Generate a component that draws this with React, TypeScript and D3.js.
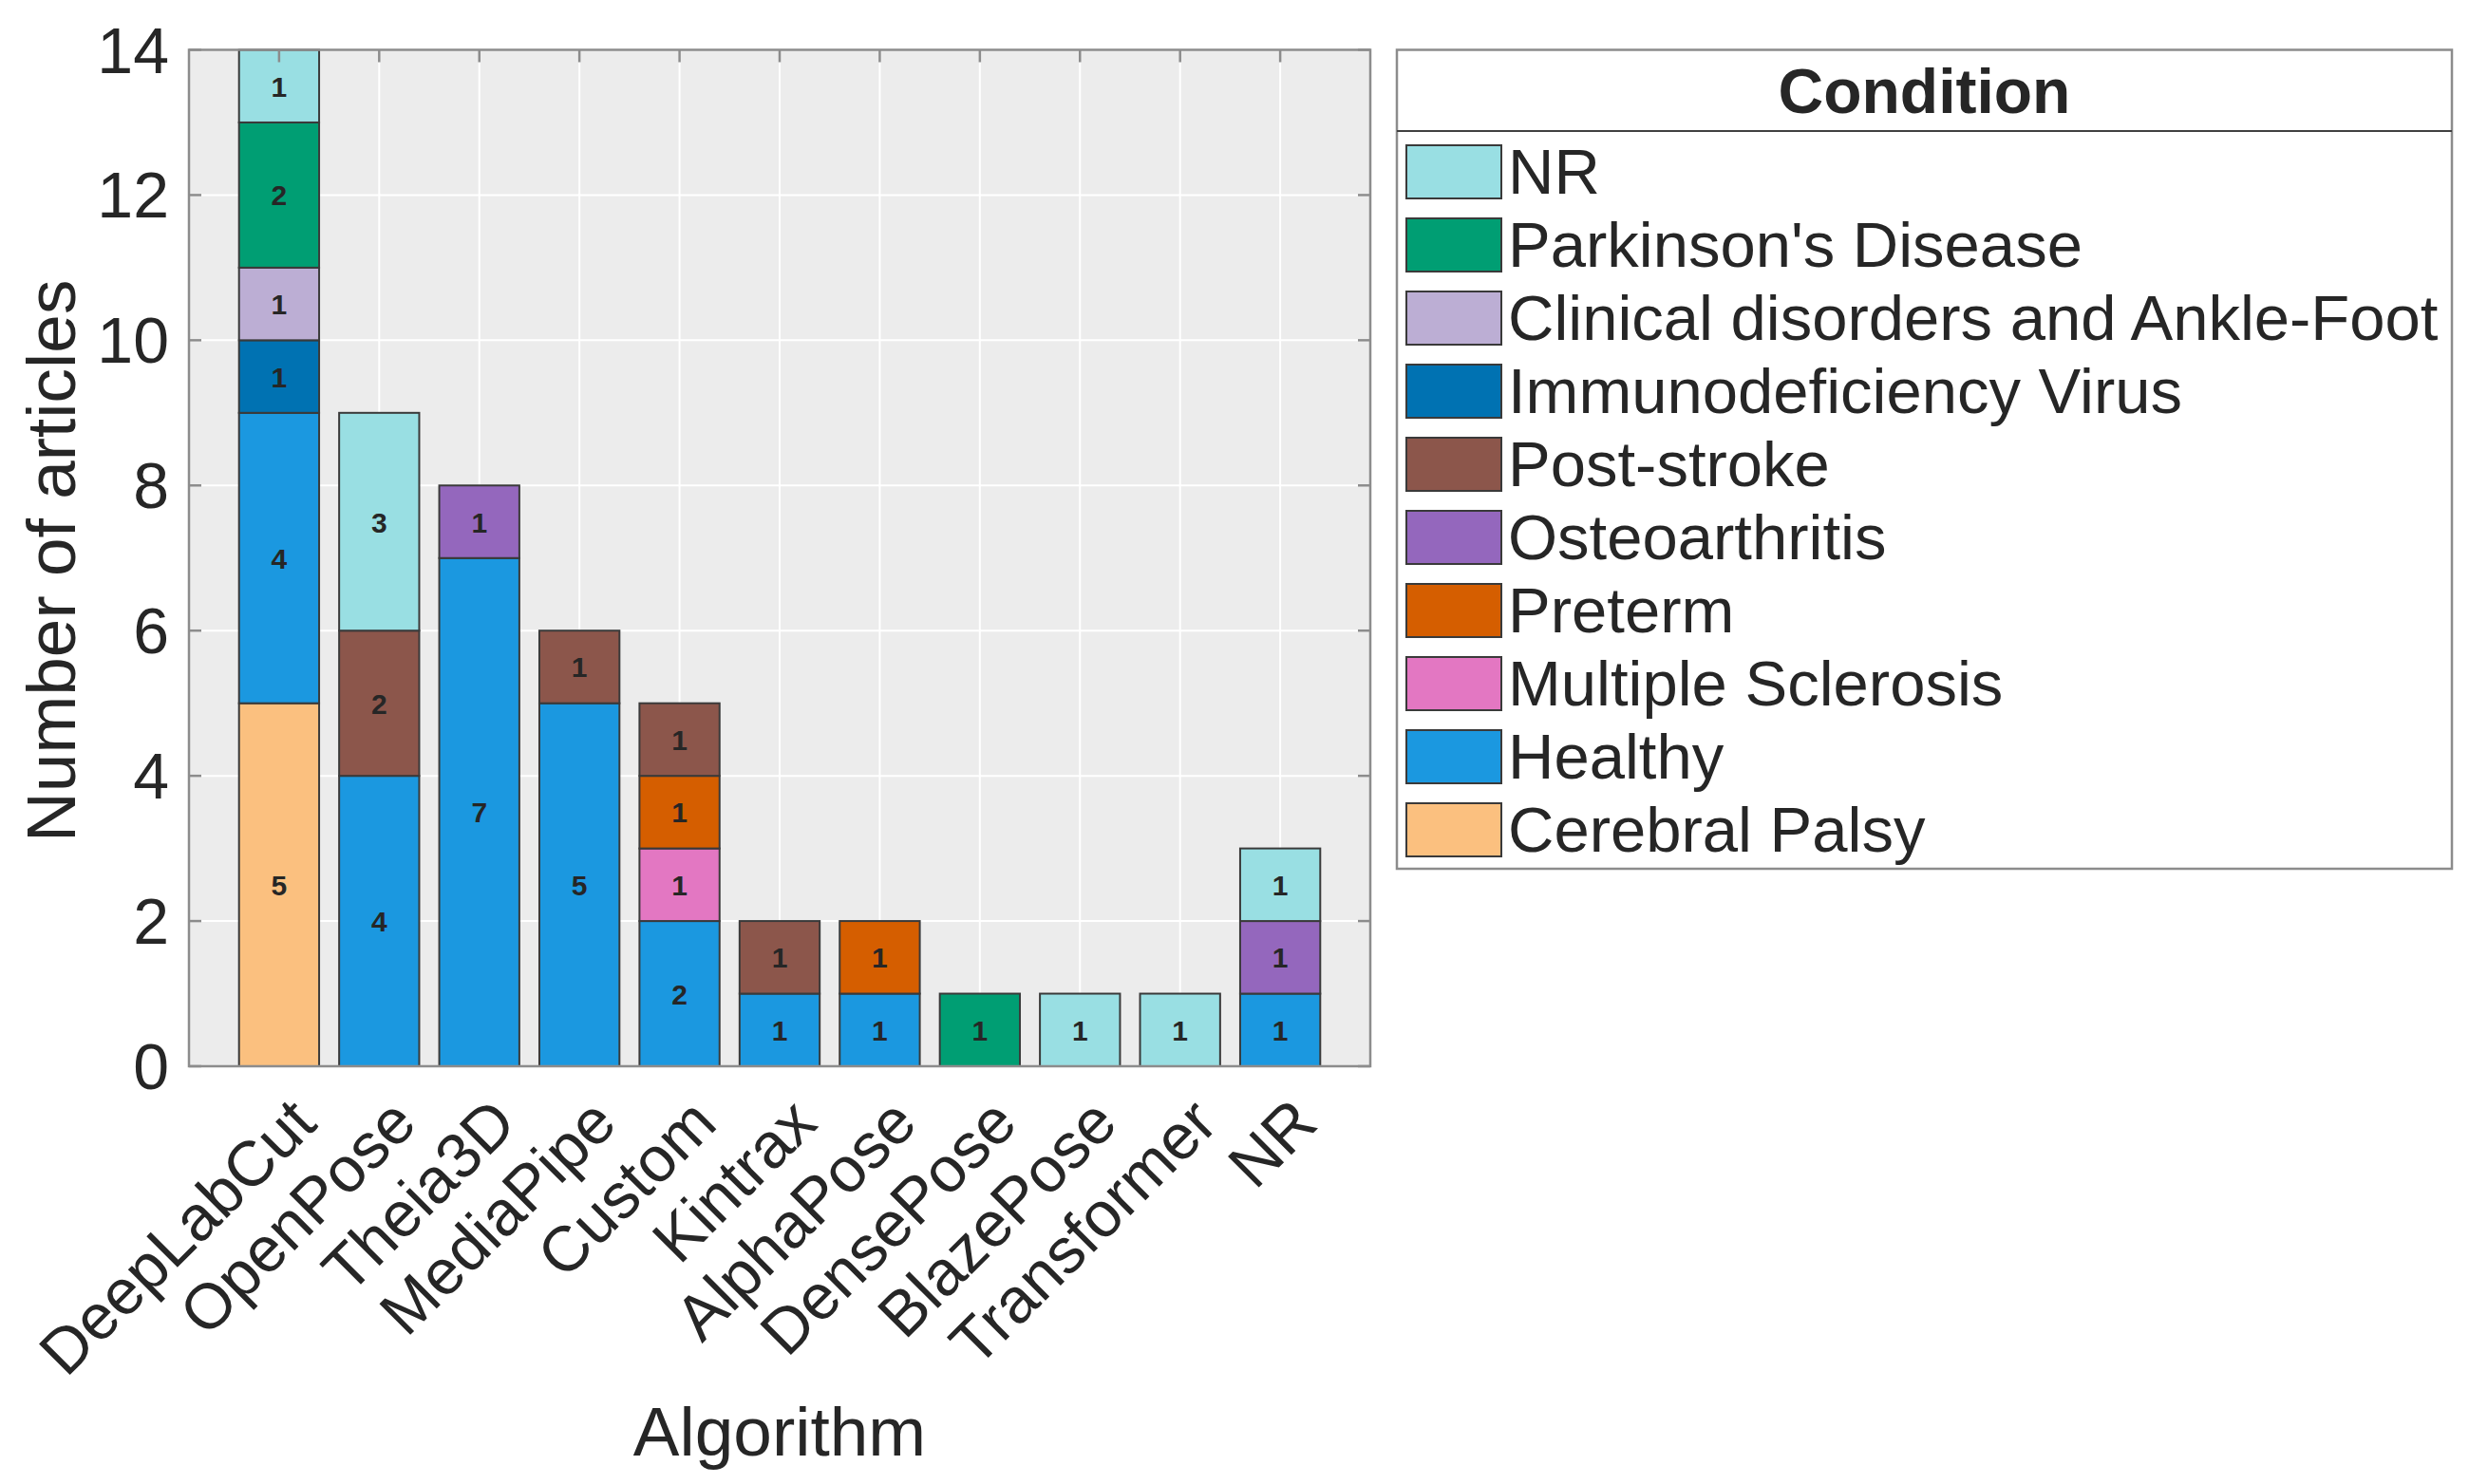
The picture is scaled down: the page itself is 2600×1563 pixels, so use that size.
import React from "react";
import { scaleBand, scaleLinear, stack, range } from "d3";

// algorithms on the x axis
const algorithms = [
  "DeepLabCut",
  "OpenPose",
  "Theia3D",
  "MediaPipe",
  "Custom",
  "Kintrax",
  "AlphaPose",
  "DensePose",
  "BlazePose",
  "Transformer",
  "NR",
];

// conditions, stack order bottom -> top
const conditions = [
  "Cerebral Palsy",
  "Healthy",
  "Multiple Sclerosis",
  "Preterm",
  "Osteoarthritis",
  "Post-stroke",
  "Immunodeficiency Virus",
  "Clinical disorders and Ankle-Foot",
  "Parkinson's Disease",
  "NR",
];

// counts per condition, one value per algorithm
const cerebralPalsy = [5, 0, 0, 0, 0, 0, 0, 0, 0, 0, 0];
const healthy = [4, 4, 7, 5, 2, 1, 1, 0, 0, 0, 1];
const multipleSclerosis = [0, 0, 0, 0, 1, 0, 0, 0, 0, 0, 0];
const preterm = [0, 0, 0, 0, 1, 0, 1, 0, 0, 0, 0];
const osteoarthritis = [0, 0, 1, 0, 0, 0, 0, 0, 0, 0, 1];
const postStroke = [0, 2, 0, 1, 1, 1, 0, 0, 0, 0, 0];
const immunodeficiency = [1, 0, 0, 0, 0, 0, 0, 0, 0, 0, 0];
const clinicalAnkleFoot = [1, 0, 0, 0, 0, 0, 0, 0, 0, 0, 0];
const parkinsons = [2, 0, 0, 0, 0, 0, 0, 1, 0, 0, 0];
const notReported = [1, 3, 0, 0, 0, 0, 0, 0, 1, 1, 1];

const seriesValues = [
  cerebralPalsy,
  healthy,
  multipleSclerosis,
  preterm,
  osteoarthritis,
  postStroke,
  immunodeficiency,
  clinicalAnkleFoot,
  parkinsons,
  notReported,
];

const colors = [
  "#FBC07F",
  "#1B98E0",
  "#E377C2",
  "#D55E00",
  "#9467BD",
  "#8C564B",
  "#0072B2",
  "#BCAED4",
  "#009E73",
  "#99DFE3",
];

const yTicks = [0, 2, 4, 6, 8, 10, 12, 14];

const FONT = "'Liberation Sans', Arial, Helvetica, sans-serif";
const TEXT = "#262626";

// layout
const LEFT = 199;
const RIGHT = 1443;
const TOP = 52.5;
const BOTTOM = 1123;

const App = () => {
  const rows = algorithms.map((name, i) => {
    const row: any = { name };
    conditions.forEach((c, k) => (row[c] = seriesValues[k][i]));
    return row;
  });
  const stacked = stack().keys(conditions)(rows);

  const xScale = scaleBand()
    .domain(algorithms)
    .range([LEFT, RIGHT])
    .paddingInner(0.2)
    .paddingOuter(0.5);
  const yScale = scaleLinear().domain([0, 14]).range([BOTTOM, TOP]);
  const bw = xScale.bandwidth();
  const cx = (a: string) => (xScale(a) ?? 0) + bw / 2;

  // legend
  const LX0 = 1471;
  const LX1 = 2582;
  const LY0 = 52.5;
  const LSEP = 138;
  const LY1 = 915;
  const legendOrder = range(conditions.length - 1, -1, -1);

  return (
    <svg
      width={2600}
      height={1563}
      style={{ position: "absolute", left: 0, top: 0, background: "#fff" }}
      fontFamily={FONT}
    >
      {/* plot background */}
      <rect x={LEFT} y={TOP} width={RIGHT - LEFT} height={BOTTOM - TOP} fill="#ECECEC" />
      {/* grid */}
      {yTicks.map((t) => (
        <line key={"gy" + t} x1={LEFT} x2={RIGHT} y1={yScale(t)} y2={yScale(t)} stroke="#fff" strokeWidth={2} />
      ))}
      {algorithms.map((a) => (
        <line key={"gx" + a} x1={cx(a)} x2={cx(a)} y1={TOP} y2={BOTTOM} stroke="#fff" strokeWidth={2} />
      ))}
      {/* bars */}
      {stacked.map((layer, k) =>
        layer.map((d: any, i: number) =>
          d[1] - d[0] > 0 ? (
            <rect
              key={k + "-" + i}
              x={xScale(algorithms[i])}
              y={yScale(d[1])}
              width={bw}
              height={yScale(d[0]) - yScale(d[1])}
              fill={colors[k]}
              stroke="#3a3a3a"
              strokeWidth={2}
            />
          ) : null
        )
      )}
      {stacked.map((layer, k) =>
        layer.map((d: any, i: number) =>
          d[1] - d[0] > 0 ? (
            <text
              key={"t" + k + "-" + i}
              x={cx(algorithms[i])}
              y={(yScale(d[0]) + yScale(d[1])) / 2 + 11}
              textAnchor="middle"
              fontSize={30}
              fontWeight="bold"
              fill={TEXT}
            >
              {d[1] - d[0]}
            </text>
          ) : null
        )
      )}
      {/* axes box */}
      <rect x={LEFT} y={TOP} width={RIGHT - LEFT} height={BOTTOM - TOP} fill="none" stroke="#8c8c8c" strokeWidth={2.5} />
      {yTicks.map((t) => (
        <g key={"ty" + t}>
          <line x1={LEFT} x2={LEFT + 13} y1={yScale(t)} y2={yScale(t)} stroke="#8c8c8c" strokeWidth={2.5} />
          <line x1={RIGHT - 13} x2={RIGHT} y1={yScale(t)} y2={yScale(t)} stroke="#8c8c8c" strokeWidth={2.5} />
          <text x={178} y={yScale(t) + 24} textAnchor="end" fontSize={68} fill={TEXT}>
            {t}
          </text>
        </g>
      ))}
      {algorithms.map((a) => (
        <g key={"tx" + a}>
          <line x1={cx(a)} x2={cx(a)} y1={TOP} y2={TOP + 13} stroke="#8c8c8c" strokeWidth={2.5} />
          <text
            transform={`translate(${cx(a) + 42},${BOTTOM + 63}) rotate(-45)`}
            textAnchor="end"
            fontSize={67}
            fill={TEXT}
          >
            {a}
          </text>
        </g>
      ))}
      {/* axis labels */}
      <text
        transform={`translate(79,${(TOP + BOTTOM) / 2 + 3}) rotate(-90)`}
        textAnchor="middle"
        fontSize={73}
        fill={TEXT}
      >
        Number of articles
      </text>
      <text x={(LEFT + RIGHT) / 2} y={1533} textAnchor="middle" fontSize={73} fill={TEXT}>
        Algorithm
      </text>
      {/* legend */}
      <rect x={LX0} y={LY0} width={LX1 - LX0} height={LY1 - LY0} fill="#fff" stroke="#8c8c8c" strokeWidth={2.5} />
      <line x1={LX0} x2={LX1} y1={LSEP} y2={LSEP} stroke="#404040" strokeWidth={2} />
      <text x={(LX0 + LX1) / 2} y={119} textAnchor="middle" fontSize={66} fontWeight="bold" fill={TEXT}>
        Condition
      </text>
      {legendOrder.map((k, j) => (
        <g key={"lg" + k}>
          <rect x={1481} y={153 + j * 77} width={100} height={56} fill={colors[k]} stroke="#3a3a3a" strokeWidth={2} />
          <text x={1588} y={153 + j * 77 + 51} fontSize={67} fill={TEXT}>
            {conditions[k]}
          </text>
        </g>
      ))}
    </svg>
  );
};

export default App;
